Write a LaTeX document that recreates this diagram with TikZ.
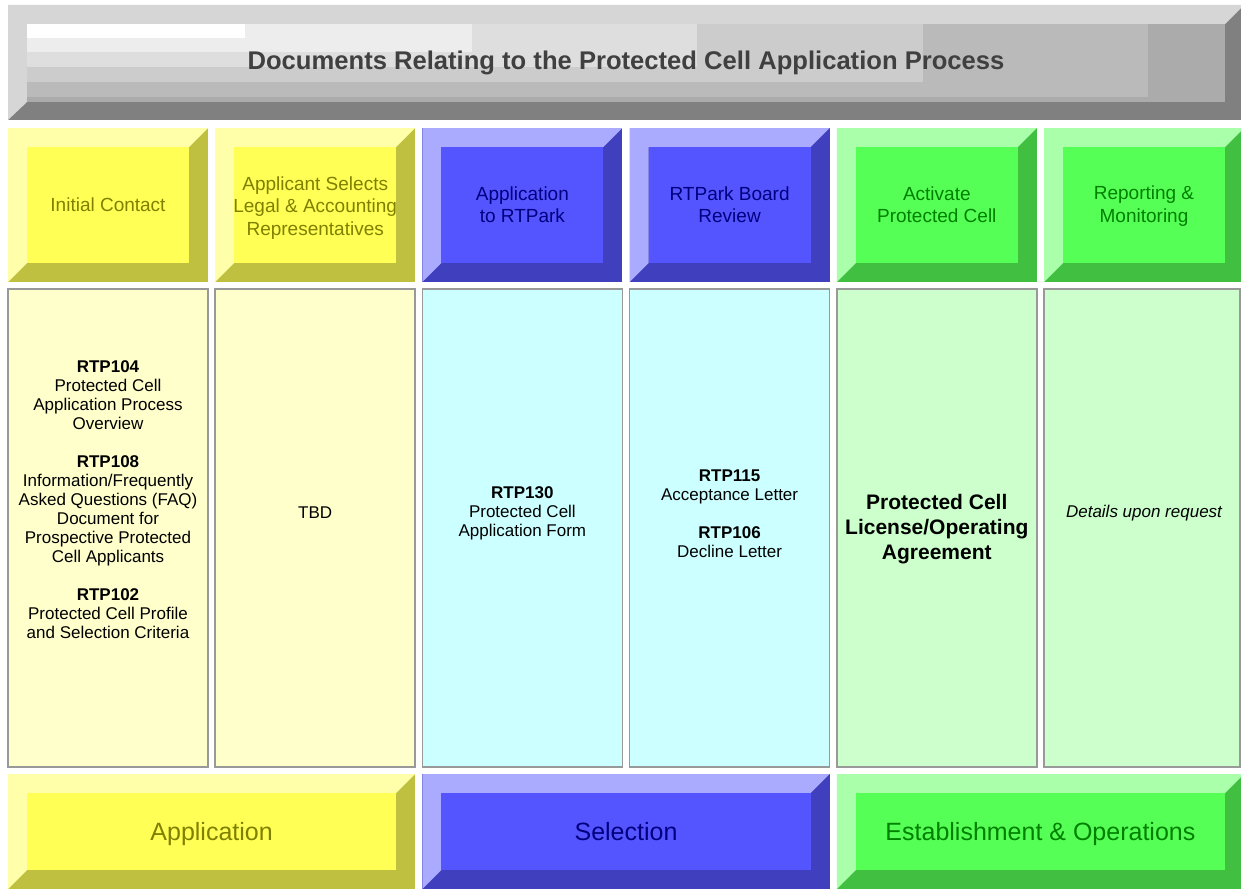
\documentclass[tikz,border=0pt]{standalone}
\usepackage{fontspec}
\setmainfont{Liberation Sans}
\definecolor{ylight}{HTML}{FFFFAA}
\definecolor{yface}{HTML}{FFFF55}
\definecolor{ydark}{HTML}{BFBF40}
\definecolor{ytext}{HTML}{808000}
\definecolor{yfill}{HTML}{FFFFCC}
\definecolor{blight}{HTML}{AAAAFF}
\definecolor{bface}{HTML}{5555FF}
\definecolor{bdark}{HTML}{4040BF}
\definecolor{btext}{HTML}{000080}
\definecolor{bfill}{HTML}{CCFFFF}
\definecolor{glight}{HTML}{AAFFAA}
\definecolor{gface}{HTML}{55FF55}
\definecolor{gdark}{HTML}{40BF40}
\definecolor{gtext}{HTML}{008000}
\definecolor{gfill}{HTML}{CCFFCC}
\definecolor{tlight}{HTML}{D6D6D6}
\definecolor{tdark}{HTML}{808080}
\definecolor{ttext}{HTML}{404040}
\definecolor{cborder}{HTML}{999999}
\newcommand{\bev}[7]{%
  \fill[#7] (#1,#2) rectangle (#3,#4);
  \fill[#5] (#1,#2) -- (#3,#2) -- ({#3-19},{#2+19}) -- ({#1+19},{#2+19}) -- ({#1+19},{#4-19}) -- (#1,#4) -- cycle;
  \fill[#6] ({#1+19},{#2+19}) rectangle ({#3-19},{#4-19});
}
\tikzset{
  hdr/.style={inner sep=0pt, align=center, font=\fontsize{19}{22.5}\selectfont},
  cnt/.style={inner sep=0pt, align=center, font=\fontsize{17}{19}\selectfont},
  bar/.style={inner sep=0pt, anchor=base, font=\fontsize{25}{30}\selectfont},
  cbox/.style={draw=cborder, line width=1.5pt},
}
\begin{document}
\begin{tikzpicture}[x=1pt,y=-1pt]
\useasboundingbox (0,0) rectangle (1241,888);
\clip (0,0) rectangle (1241,888);
\fill[white] (0,0) rectangle (1241,888);
% title bar
\fill[tdark] (8,5) rectangle (1244,120);
\fill[tlight] (8,5) -- (1244,5) -- (1225,24) -- (27,24) -- (27,102) -- (8,120) -- cycle;
\fill[black!33] (27,24) rectangle (1225,102);
\fill[black!27] (27,24) rectangle (1148,97);
\fill[black!20] (27,24) rectangle (923,82);
\fill[black!13] (27,24) rectangle (697,67);
\fill[black!7] (27,24) rectangle (472,52);
\fill[white] (27,24) rectangle (245,38);
\node[inner sep=0pt, anchor=base, text=ttext, font=\fontsize{25.6}{30}\selectfont\bfseries] (title) at (626,70) {Documents Relating to the Protected Cell Application Process};
% header boxes
\bev{8}{128}{208}{282}{ylight}{yface}{ydark}
\bev{215.2}{128}{415.2}{282}{ylight}{yface}{ydark}
\bev{422.4}{128}{622.4}{282}{blight}{bface}{bdark}
\bev{629.6}{128}{829.6}{282}{blight}{bface}{bdark}
\bev{836.8}{128}{1036.8}{282}{glight}{gface}{gdark}
\bev{1044}{128}{1244}{282}{glight}{gface}{gdark}
\node[hdr, text=ytext] (h1) at (108,205) {Initial Contact};
\node[hdr, text=ytext] (h2) at (315.2,208) {Applicant Selects\\Legal \& Accounting\\Representatives};
\node[hdr, text=btext] (h3) at (522.4,204.5) {Application\\to RTPark};
\node[hdr, text=btext] (h4) at (729.6,204.5) {RTPark Board\\Review};
\node[hdr, text=gtext] (h5) at (936.8,204.5) {Activate\\Protected Cell};
\node[hdr, text=gtext] (h6) at (1144,206) {Reporting \&\\Monitoring};
% content boxes
\filldraw[cbox, fill=yfill] (8,289) rectangle (208,767);
\filldraw[cbox, fill=yfill] (215.2,289) rectangle (415.2,767);
\filldraw[cbox, fill=bfill] (422.4,289) rectangle (622.4,767);
\filldraw[cbox, fill=bfill] (629.6,289) rectangle (829.6,767);
\filldraw[cbox, fill=gfill] (836.8,289) rectangle (1036.8,767);
\filldraw[cbox, fill=gfill] (1044,289) rectangle (1240,767);
\node[cnt] (c1) at (108,500) {\textbf{RTP104}\\Protected Cell\\Application Process\\Overview\\[19pt]\textbf{RTP108}\\Information/Frequently\\Asked Questions (FAQ)\\Document for\\Prospective Protected\\Cell Applicants\\[19pt]\textbf{RTP102}\\Protected Cell Profile\\and Selection Criteria};
\node[cnt] (c2) at (315.2,513) {TBD};
\node[cnt] (c3) at (522.4,513) {\textbf{RTP130}\\Protected Cell\\Application Form};
\node[cnt] (c4) at (729.6,513.5) {\textbf{RTP115}\\Acceptance Letter\\[19pt]\textbf{RTP106}\\Decline Letter};
\node[inner sep=0pt, align=center, font=\fontsize{21}{25}\selectfont\bfseries] (c5) at (936.8,529) {Protected Cell\\License/Operating\\Agreement};
\node[cnt, font=\fontsize{17}{19}\selectfont\itshape] (c6) at (1144,513) {Details upon request};
% bottom bars
\bev{8}{774}{415.2}{889}{ylight}{yface}{ydark}
\bev{422.4}{774}{829.6}{889}{blight}{bface}{bdark}
\bev{836.8}{774}{1244}{889}{glight}{gface}{gdark}
\node[bar, text=ytext] (b1) at (211.6,840) {Application};
\node[bar, text=btext] (b2) at (626,840) {Selection};
\node[bar, text=gtext] (b3) at (1040.4,840) {Establishment \& Operations};
\end{tikzpicture}
\end{document}
